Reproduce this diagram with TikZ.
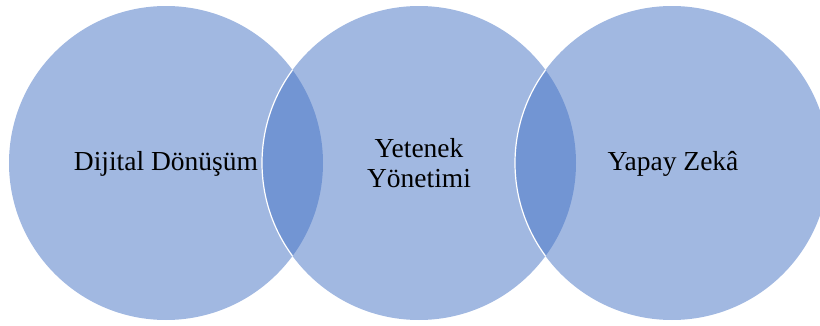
\documentclass[tikz,border=0pt]{standalone}
\usepackage{fontspec}
\setmainfont{Liberation Serif}
\definecolor{accent}{HTML}{4472C4}
\begin{document}
\begin{tikzpicture}[x=1pt,y=1pt,
  disc/.style={circle,minimum size=314pt,inner sep=0pt,fill=accent,fill opacity=0.5,draw=none},
  rim/.style={draw=white,line width=1.2pt},
  lbl/.style={font=\fontsize{27.5}{30}\selectfont,align=center,text=black}]
\useasboundingbox (0,0) rectangle (820,325);
\clip (0,0) rectangle (820,325);
\node[disc] (c1) at (166,162) {};
\node[disc] (c2) at (419,162) {};
\node[disc] (c3) at (672,162) {};
\begin{scope}
  \clip (166,162) circle (157);
  \draw[rim] (419,162) circle (157);
\end{scope}
\begin{scope}
  \clip (419,162) circle (157);
  \draw[rim] (672,162) circle (157);
\end{scope}
\node[lbl] (t1) at (166,161) {Dijital Dönüşüm};
\node[lbl] (t2) at (419,162) {Yetenek\\Yönetimi};
\node[lbl] (t3) at (673,161) {Yapay Zekâ};
\end{tikzpicture}
\end{document}
